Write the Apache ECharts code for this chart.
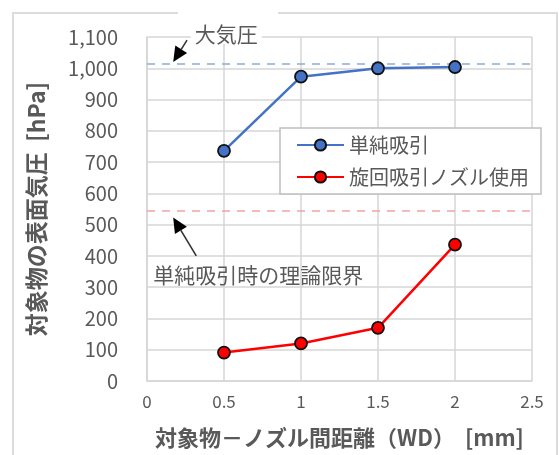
<!DOCTYPE html>
<html>
<head>
<meta charset="utf-8">
<script src="https://cdn.jsdelivr.net/npm/echarts@6/dist/echarts.min.js"></script>
<style>
  html, body { margin: 0; padding: 0; background: #fff; }
  #chart { width: 559px; height: 455px; }
</style>
</head>
<body>
<div id="chart"></div>
<script>
// Working distance (WD) between target and nozzle, mm
const wd = [0.5, 1, 1.5, 2];
// Surface pressure on the target, hPa
const simpleSuction = [736, 973, 1000, 1004];
const swirlNozzle = [91, 120, 170, 436];
// Reference levels, hPa
const atmosphere = 1013;
const theoreticalLimit = 543;

const seriesNames = ['単純吸引', '旋回吸引ノズル使用'];
const FONT = '"Noto Sans CJK JP", "Noto Sans", sans-serif';
const GRAY = '#595959';
const GRID = '#d6d6d6';

const chart = echarts.init(document.getElementById('chart'), null, { renderer: 'canvas' });

function pairs(xs, ys) { return xs.map((x, i) => [x, ys[i]]); }

const option = {
  backgroundColor: '#fff',
  animation: false,
  textStyle: { fontFamily: FONT },
  grid: { left: 147, right: 27, top: 37, bottom: 74, containLabel: false },
  legend: {
    orient: 'vertical',
    left: 280,
    top: 128,
    width: 270,
    padding: [7, 12, 7, 16],
    itemGap: 12,
    itemWidth: 47,
    itemHeight: 14,
    backgroundColor: '#fff',
    borderColor: '#bfbfbf',
    borderWidth: 1.5,
    textStyle: { fontFamily: FONT, fontSize: 20, color: GRAY },
    data: seriesNames
  },
  xAxis: {
    type: 'value',
    min: 0, max: 2.5, interval: 0.5,
    name: '対象物－ノズル間距離（WD）  [mm]',
    nameLocation: 'middle',
    nameGap: 46,
    nameTextStyle: { fontFamily: FONT, fontSize: 22, fontWeight: 'bold', color: GRAY },
    axisLine: { lineStyle: { color: GRID, width: 1.5 } },
    axisTick: { show: false },
    axisLabel: { color: GRAY, fontSize: 17, margin: 12, fontFamily: FONT },
    splitLine: { show: true, lineStyle: { color: GRID, width: 1.5 } }
  },
  yAxis: {
    type: 'value',
    min: 0, max: 1100, interval: 100,
    name: '対象物の表面気圧  [hPa]',
    nameLocation: 'middle',
    nameRotate: 90,
    nameGap: 99,
    nameTextStyle: { fontFamily: FONT, fontSize: 23, fontWeight: 'bold', color: GRAY },
    axisLine: { show: true, lineStyle: { color: GRID, width: 1.5 } },
    axisTick: { show: false },
    axisLabel: {
      color: GRAY, fontSize: 20, margin: 29, fontFamily: FONT,
      formatter: v => v.toLocaleString('en-US')
    },
    splitLine: { show: true, lineStyle: { color: GRID, width: 1.5 } }
  },
  series: [
    {
      name: seriesNames[0],
      type: 'line',
      data: pairs(wd, simpleSuction),
      symbol: 'circle',
      symbolSize: 12,
      lineStyle: { color: '#4472C4', width: 2.5 },
      itemStyle: { color: '#4472C4', borderColor: '#111', borderWidth: 1.8 },
      z: 5,
      markLine: {
        silent: true,
        symbol: 'none',
        label: { show: false },
        lineStyle: { color: '#8FAADC', type: [8, 7], width: 1.6 },
        data: [{ yAxis: atmosphere }],
        z: 1
      }
    },
    {
      name: seriesNames[1],
      type: 'line',
      data: pairs(wd, swirlNozzle),
      symbol: 'circle',
      symbolSize: 12,
      lineStyle: { color: '#FF0000', width: 2.5 },
      itemStyle: { color: '#FF0000', borderColor: '#111', borderWidth: 1.8 },
      z: 5,
      markLine: {
        silent: true,
        symbol: 'none',
        label: { show: false },
        lineStyle: { color: '#F4A3A3', type: [8, 7], width: 1.6 },
        data: [{ yAxis: theoreticalLimit }],
        z: 1
      }
    }
  ]
};

chart.setOption(option);

// Annotation callouts, placed from data coordinates
function px(x, y) { return chart.convertToPixel({ gridIndex: 0 }, [x, y]); }

function arrow(from, to) {
  const dx = to[0] - from[0], dy = to[1] - from[1];
  const len = Math.sqrt(dx * dx + dy * dy);
  const ux = dx / len, uy = dy / len;
  const headLen = 15, headHalf = 7;
  const bx = to[0] - ux * headLen, by = to[1] - uy * headLen;
  return [
    { type: 'line', z: 20, shape: { x1: from[0], y1: from[1], x2: bx, y2: by },
      style: { stroke: '#333', lineWidth: 1.6 } },
    { type: 'polygon', z: 20, shape: { points: [
        to, [bx - uy * headHalf, by + ux * headHalf], [bx + uy * headHalf, by - ux * headHalf]
      ] }, style: { fill: '#000' } }
  ];
}

const atmTail = px(0.26, 1090), atmTip = px(0.17, 1020);
const atmText = px(0.31, 1103);
const limTail = px(0.32, 400), limTip = px(0.17, 523);
const limText = px(0.04, 330);

chart.setOption({
  graphic: [
    // outer frame
    { type: 'polyline', z: 0, shape: { points: [[13, 455], [13, 13], [178, 13]] },
      style: { stroke: '#dcdcdc', lineWidth: 2, fill: null } },
    { type: 'polyline', z: 0, shape: { points: [[278, 13], [557, 13], [557, 455]] },
      style: { stroke: '#dcdcdc', lineWidth: 2, fill: null } },
    { type: 'text', z: 19, left: atmText[0] - 4, top: atmText[1] - 13,
      style: { text: '大気圧', font: '21px ' + FONT, fill: GRAY,
        backgroundColor: '#fff', padding: [0, 4, 0, 4] } },
    ...arrow(atmTail, atmTip),
    { type: 'text', z: 19, left: limText[0], top: limText[1] - 13,
      style: { text: '単純吸引時の理論限界', font: '21px ' + FONT, fill: GRAY } },
    ...arrow(limTail, limTip)
  ]
});
</script>
</body>
</html>
